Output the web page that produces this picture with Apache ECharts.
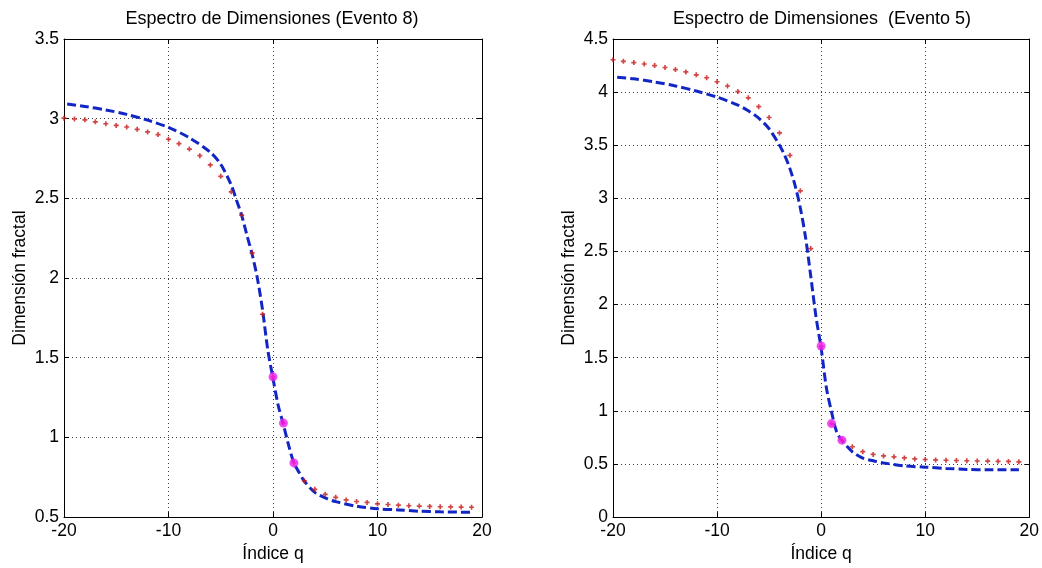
<!DOCTYPE html>
<html><head><meta charset="utf-8">
<script src="https://cdn.jsdelivr.net/npm/echarts@6/dist/echarts.min.js"></script>
<style>html,body{margin:0;padding:0;background:#fff}#c{width:1042px;height:568px}</style>
</head><body><div id="c"></div>
<script>
// ---- data ----
const qRed = [-20,-19,-18,-17,-16,-15,-14,-13,-12,-11,-10,-9,-8,-7,-6,-5,-4,-3,-2,-1,0,1,2,3,4,5,6,7,8,9,10,11,12,13,14,15,16,17,18,19];
const redE8 = [3.003,2.998,2.993,2.980,2.968,2.958,2.948,2.933,2.917,2.900,2.871,2.843,2.809,2.768,2.710,2.638,2.541,2.395,2.158,1.773,1.38,1.09,0.84,0.728,0.674,0.643,0.624,0.608,0.598,0.592,0.583,0.579,0.575,0.571,0.569,0.567,0.565,0.564,0.563,0.562];
const blueQE8 = [-19.7,-18,-16,-14,-12,-10,-8,-6,-5,-4,-3.5,-3,-2.5,-2,-1.5,-1,-0.5,0,0.5,1,1.5,2,2.5,3,4,5,6,8,10,12,14,16,19];
const blueE8 = [3.092,3.077,3.055,3.027,2.991,2.945,2.880,2.789,2.714,2.584,2.49,2.394,2.27,2.15,2.0,1.80,1.55,1.37,1.20,1.08,0.95,0.84,0.78,0.725,0.655,0.62,0.597,0.568,0.552,0.545,0.537,0.533,0.530];
const magQ = [0,1,2];
const magE8 = [1.38,1.09,0.84];

const redE5 = [4.305,4.290,4.278,4.265,4.250,4.232,4.212,4.190,4.163,4.135,4.098,4.058,4.005,3.946,3.863,3.761,3.616,3.405,3.071,2.527,1.61,0.88,0.724,0.662,0.616,0.590,0.576,0.567,0.557,0.548,0.542,0.538,0.535,0.533,0.530,0.528,0.527,0.525,0.524,0.520];
const blueQE5 = [-19.6,-18,-16,-14,-12,-10,-8,-7,-6,-5,-4,-3.5,-3,-2.5,-2,-1.5,-1,-0.5,0,0.5,1,1.5,2,2.5,3,4,5,6,8,10,12,14,16,19];
const blueE5 = [4.141,4.125,4.095,4.058,4.010,3.953,3.878,3.824,3.755,3.655,3.50,3.405,3.28,3.12,2.91,2.634,2.27,1.89,1.59,1.22,0.99,0.80,0.72,0.665,0.615,0.556,0.53,0.51,0.482,0.47,0.458,0.449,0.445,0.445];
const magE5 = [1.61,0.88,0.724];

const titles = ['Espectro de Dimensiones (Evento 8)', 'Espectro de Dimensiones  (Evento 5)'];
const xName = 'Índice q';
const yName = 'Dimensión fractal';
const yRanges = [[0.5, 3.5], [0, 4.5]];

// ---- chart ----
const FONT = "'Liberation Sans', Arial, Helvetica, sans-serif";
const FS = 17.5;
const pairs = (xs, ys) => xs.map((x, i) => [x, ys[i]]);
const PLUS = 'path://M2,0H4V2H6V4H4V6H2V4H0V2H2Z';
const gridPos = [{left:64, top:39, width:418, height:485}, {left:613, top:39, width:418, height:485}];
const titleX = [272, 822];

const xAxis = [], yAxis = [], series = [], title = [];
const sets = [
  {red: redE8, bq: blueQE8, b: blueE8, m: magE8},
  {red: redE5, bq: blueQE5, b: blueE5, m: magE5}
];
const tickStyle = {show:true, inside:true, length:5, lineStyle:{color:'#000', width:1}};
const splitStyle = {show:true, lineStyle:{color:'#3a3a3a', type:[1,3], width:1}};
const lbl = {color:'#000', fontSize:FS, fontFamily:FONT};

sets.forEach((s, i) => {
  title.push({text: titles[i], left: titleX[i], textAlign:'center', top: 10, padding: 0,
    textStyle:{fontSize:18, fontWeight:'normal', color:'#000', fontFamily:FONT}});
  xAxis.push({gridIndex:i, type:'value', min:-20, max:20, interval:10, position:'bottom',
    name:xName, nameLocation:'middle', nameGap:26, nameTextStyle:lbl,
    axisLine:{show:true, onZero:false, lineStyle:{color:'#000', width:1}},
    axisTick:tickStyle, axisLabel:Object.assign({margin:5}, lbl), splitLine:splitStyle});
  xAxis.push({gridIndex:i, type:'value', min:-20, max:20, interval:10, position:'top',
    axisLine:{show:true, onZero:false, lineStyle:{color:'#000', width:1}},
    axisTick:tickStyle, axisLabel:{show:false}, splitLine:{show:false}});
  yAxis.push({gridIndex:i, type:'value', min:yRanges[i][0], max:yRanges[i][1], interval:0.5, position:'left',
    name:yName, nameLocation:'middle', nameGap:35, nameTextStyle:lbl,
    axisLine:{show:true, onZero:false, lineStyle:{color:'#000', width:1}},
    axisTick:tickStyle, axisLabel:Object.assign({margin:5}, lbl), splitLine:splitStyle});
  yAxis.push({gridIndex:i, type:'value', min:yRanges[i][0], max:yRanges[i][1], interval:0.5, position:'right',
    axisLine:{show:true, onZero:false, lineStyle:{color:'#000', width:1}},
    axisTick:tickStyle, axisLabel:{show:false}, splitLine:{show:false}});
  series.push({type:'line', xAxisIndex:2*i, yAxisIndex:2*i, data:pairs(s.bq, s.b),
    symbol:'none', showSymbol:false, smooth:0.3, silent:true, z:2,
    lineStyle:{color:'#1226c4', width:3, type:[9,4]}});
  series.push({type:'scatter', xAxisIndex:2*i, yAxisIndex:2*i, data:pairs(qRed, s.red),
    symbol:PLUS, symbolSize:5, silent:true, z:3, itemStyle:{color:'#c41818'}});
  series.push({type:'scatter', xAxisIndex:2*i, yAxisIndex:2*i, data:pairs(magQ, s.m),
    symbol:'circle', symbolSize:9, silent:true, z:4, itemStyle:{color:'#f020f0'}});
});

const chart = echarts.init(document.getElementById('c'), null, {renderer:'canvas'});
chart.setOption({
  animation:false, backgroundColor:'#fff', textStyle:{fontFamily:FONT},
  title, grid:gridPos, xAxis, yAxis, series
});
</script></body></html>
